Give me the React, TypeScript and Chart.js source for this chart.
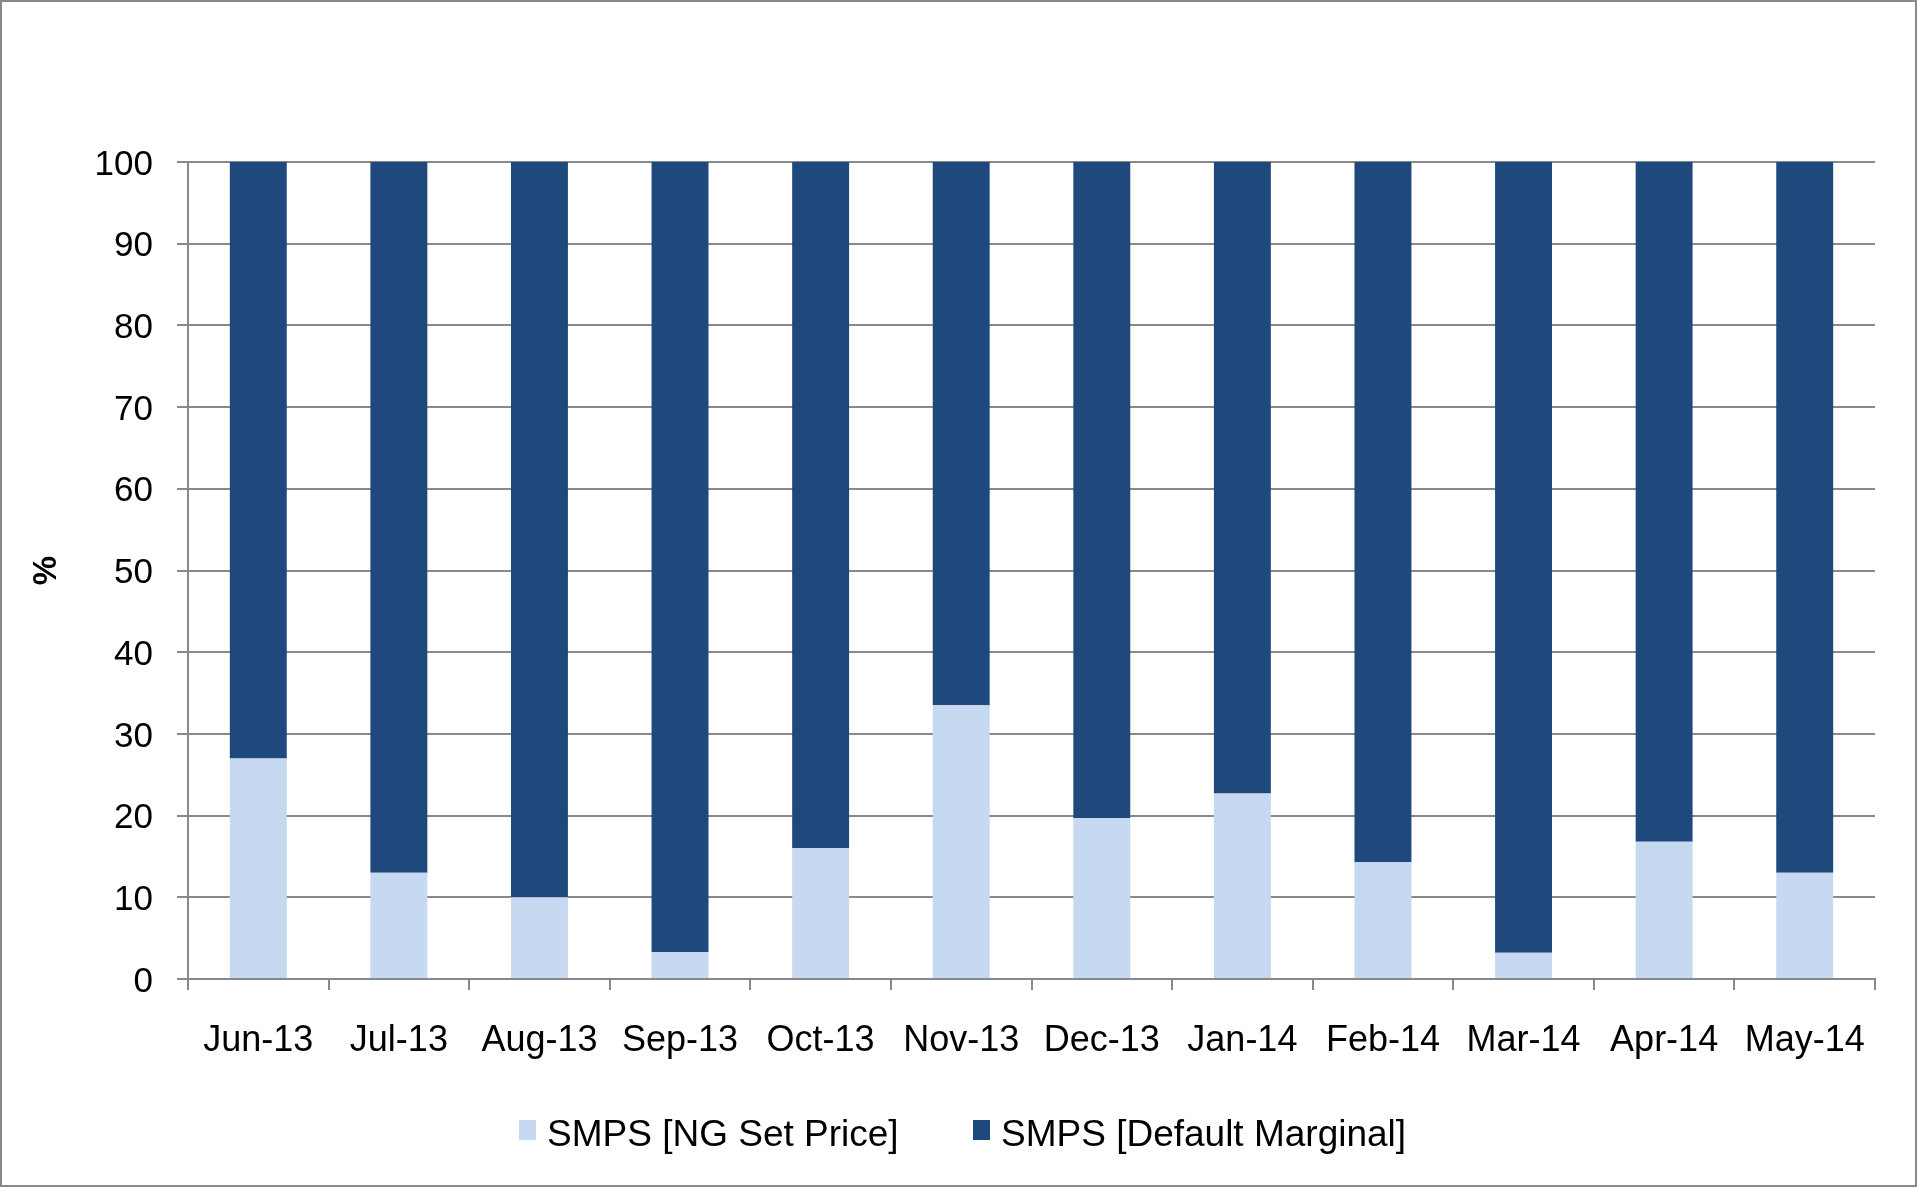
import React, { useEffect, useRef } from "react";
import { Chart, registerables } from "chart.js";

Chart.register(...registerables);

const categories = [
  "Jun-13", "Jul-13", "Aug-13", "Sep-13", "Oct-13", "Nov-13",
  "Dec-13", "Jan-14", "Feb-14", "Mar-14", "Apr-14", "May-14",
];
const ngSetPrice = [27, 13, 10, 3.3, 16, 33.5, 19.7, 22.7, 14.3, 3.2, 16.8, 13];
const defaultMarginal = [73, 87, 90, 96.7, 84, 66.5, 80.3, 77.3, 85.7, 96.8, 83.2, 87];
const seriesLabels = ["SMPS [NG Set Price]", "SMPS [Default Marginal]"];
const seriesColors = ["#C6D9F1", "#1F497D"];
const yAxisTitle = "%";

const FONT = '"Liberation Sans", Arial, Helvetica, sans-serif';
const GRID = "#898989";

const bottomLegend = {
  id: "bottomLegend",
  afterDraw(chart: any) {
    const ctx = chart.ctx as CanvasRenderingContext2D;
    const boxX = [519, 973];
    const textX = [547, 1001];
    ctx.save();
    chart.data.datasets.forEach((ds: any, i: number) => {
      ctx.fillStyle = ds.backgroundColor;
      ctx.fillRect(boxX[i], 1120, 17, 20);
      ctx.font = `37px ${FONT}`;
      ctx.fillStyle = "#000";
      ctx.textBaseline = "middle";
      ctx.textAlign = "left";
      ctx.fillText(ds.label, textX[i], 1136);
    });
    ctx.strokeStyle = GRID;
    ctx.lineWidth = 2;
    ctx.strokeRect(1, 1, 1915, 1185);
    ctx.restore();
  },
};

export default function App() {
  const ref = useRef<HTMLCanvasElement | null>(null);

  useEffect(() => {
    if (!ref.current) return;
    const chart = new Chart(ref.current, {
      type: "bar",
      data: {
        labels: categories,
        datasets: [
          {
            label: seriesLabels[0],
            data: ngSetPrice,
            backgroundColor: seriesColors[0],
            borderWidth: 0,
            categoryPercentage: 1,
            barPercentage: 0.405,
          },
          {
            label: seriesLabels[1],
            data: defaultMarginal,
            backgroundColor: seriesColors[1],
            borderWidth: 0,
            categoryPercentage: 1,
            barPercentage: 0.405,
          },
        ],
      },
      options: {
        responsive: false,
        animation: false,
        devicePixelRatio: 1,
        layout: { padding: { left: 0, top: 162, right: 42, bottom: 128 } },
        plugins: {
          legend: { display: false },
          tooltip: { enabled: false },
        },
        scales: {
          x: {
            stacked: true,
            offset: true,
            grid: {
              display: true,
              drawOnChartArea: false,
              drawTicks: true,
              tickLength: 11,
              color: GRID,
              lineWidth: 2,
              offset: true,
            },
            border: { display: true, color: GRID, width: 2 },
            ticks: {
              color: "#000",
              font: { family: FONT, size: 36 },
              padding: 29,
              maxRotation: 0,
              autoSkip: false,
            },
            afterFit(scale: any) {
              scale.height = 80;
            },
          },
          y: {
            stacked: true,
            min: 0,
            max: 100,
            grid: {
              color: GRID,
              lineWidth: 2,
              tickLength: 11,
              drawTicks: true,
            },
            border: { display: true, color: GRID, width: 2 },
            ticks: {
              stepSize: 10,
              color: "#000",
              font: { family: FONT, size: 35 },
              padding: 24,
              labelOffset: 3,
            },
            title: {
              display: true,
              text: yAxisTitle,
              color: "#000",
              font: { family: FONT, size: 33, weight: "bold" },
              padding: { top: 27, bottom: 0 },
            },
            afterFit(scale: any) {
              scale.width = 188;
            },
          },
        },
      },
      plugins: [bottomLegend],
    });
    return () => chart.destroy();
  }, []);

  return (
    <div
      style={{
        position: "fixed",
        left: 0,
        top: 0,
        width: 1917,
        height: 1187,
        background: "#fff",
      }}
    >
      <canvas ref={ref} width={1917} height={1187} style={{ display: "block" }} />
    </div>
  );
}
